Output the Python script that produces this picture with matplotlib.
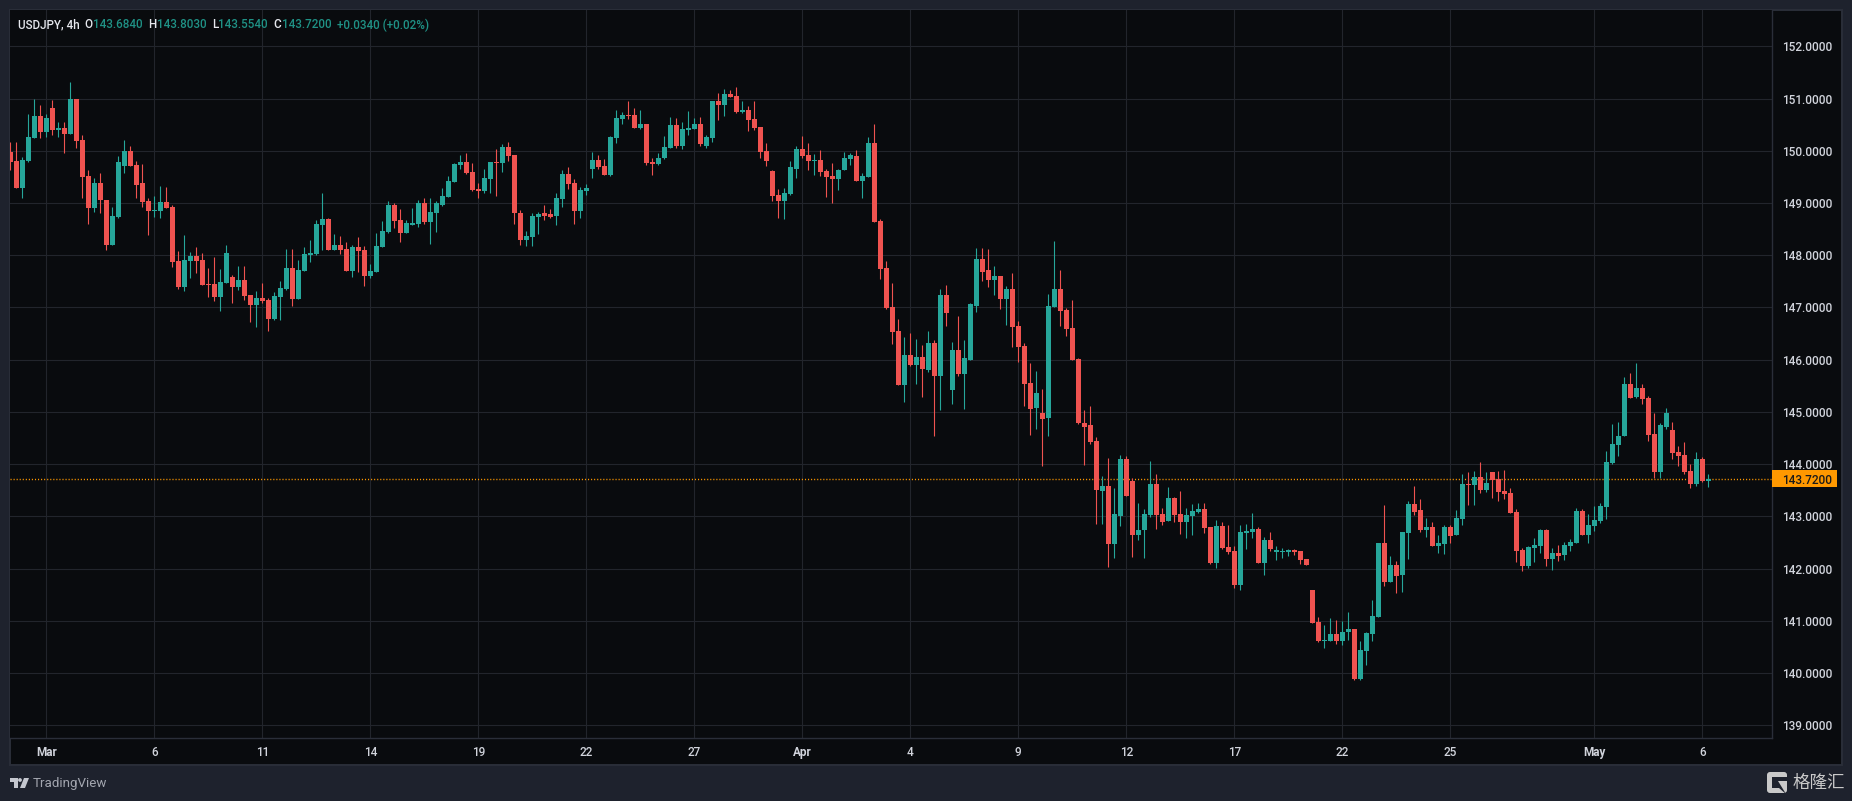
from matplotlib import pyplot as plt
from matplotlib.patches import Rectangle, Polygon, Circle, FancyBboxPatch
from matplotlib.ticker import FixedLocator, FixedFormatter

# USDJPY 4h candles
open_ = [149.97,149.81,149.28,149.81,150.24,150.66,150.35,150.81,150.39,150.43,
150.33,150.99,150.20,149.51,148.91,149.39,149.06,148.20,148.74,149.70,
149.99,149.72,149.39,149.03,148.85,148.85,149.01,148.93,147.89,147.39,
147.89,147.99,147.91,147.45,147.45,147.20,147.47,147.58,147.39,147.53,
147.24,147.05,147.18,147.14,146.78,147.20,147.35,147.76,147.16,147.70,
148.01,148.03,148.58,148.70,148.10,148.20,148.12,147.70,148.16,148.10,
147.60,147.68,148.16,148.45,148.97,148.68,148.43,148.58,148.60,148.99,
148.64,148.81,148.97,149.12,149.41,149.72,149.79,149.60,149.26,149.22,
149.45,149.78,149.76,150.08,149.91,148.81,148.29,148.35,148.74,148.80,
148.78,148.76,149.08,149.56,149.39,148.85,149.22,149.66,149.83,149.70,
149.54,150.24,150.60,150.68,150.68,150.43,150.51,149.78,149.74,149.87,
150.06,150.49,150.10,150.39,150.41,150.51,150.10,150.24,150.95,150.87,
151.08,151.04,150.74,150.78,150.60,150.45,149.99,149.62,149.16,149.03,
149.18,149.66,150.03,149.91,149.81,149.83,149.62,149.51,149.45,149.64,
149.85,149.89,149.43,149.49,150.14,148.66,147.76,147.01,146.55,145.51,
146.08,145.89,146.06,145.81,146.31,145.68,147.24,145.41,146.18,145.72,
145.99,147.03,147.93,147.72,147.53,147.60,147.16,147.35,146.64,146.26,
145.56,145.08,144.97,144.89,147.01,147.35,146.95,146.60,146.01,144.79,
144.74,144.45,143.49,143.58,142.47,143.01,144.10,143.68,142.64,142.74,
143.03,143.62,143.04,142.91,143.35,143.04,142.89,143.01,143.08,143.14,
142.79,142.10,142.81,142.41,142.33,141.68,142.68,142.70,142.76,142.10,
142.55,142.31,142.31,142.31,142.35,142.33,142.18,141.58,140.97,140.62,
140.62,140.74,140.62,140.78,140.85,139.89,140.43,140.74,141.08,142.49,
141.74,142.06,141.87,142.68,143.24,143.12,142.74,142.79,142.43,142.47,
142.79,142.64,142.95,143.62,143.60,143.76,143.51,143.85,143.72,143.49,
143.45,143.08,142.35,142.04,142.39,142.43,142.74,142.18,142.29,142.26,
142.43,142.49,143.10,142.64,142.81,142.91,143.18,144.03,144.37,144.54,
145.54,145.28,145.45,145.26,144.58,143.85,144.72,144.66,144.24,144.18,
143.87,143.62,144.10,143.684]
high = [150.16,150.16,149.88,150.70,151.00,150.87,150.70,150.97,150.55,150.55,
151.31,150.99,150.31,149.64,149.47,149.58,149.06,148.93,149.89,150.20,
150.10,149.81,149.74,149.10,149.14,149.33,149.31,148.97,148.08,148.39,
148.06,148.16,148.04,147.76,147.97,147.74,148.20,147.62,147.80,147.80,
147.24,147.31,147.47,147.18,147.30,147.51,148.12,148.12,147.91,148.16,
148.29,148.68,149.20,148.72,148.41,148.37,148.26,148.20,148.35,148.18,
147.83,148.43,148.66,149.03,148.99,148.89,148.68,148.91,149.06,149.10,
149.10,149.03,149.29,149.51,149.76,149.91,149.95,149.76,149.39,149.66,
149.78,150.03,150.12,150.16,149.91,148.87,148.47,148.80,148.83,148.97,
148.89,149.20,149.64,149.68,149.45,149.31,149.37,149.97,149.91,149.85,
150.28,150.78,150.74,150.95,150.81,150.78,150.51,149.87,149.95,150.29,
150.64,150.62,150.56,150.76,150.62,150.64,150.31,150.95,151.10,151.18,
151.16,151.22,150.95,150.85,150.95,150.45,150.14,149.64,149.26,149.29,
149.81,150.10,150.28,150.14,149.93,150.01,149.66,149.76,149.66,149.97,
149.95,150.01,149.58,150.26,150.51,148.70,147.89,147.47,146.78,146.43,
146.51,146.39,146.28,146.54,146.37,147.35,147.43,146.33,146.83,146.37,
147.08,148.14,148.14,148.12,147.79,147.60,147.41,147.66,146.74,146.31,
145.93,145.78,145.43,147.26,148.28,147.72,146.99,147.14,146.03,145.04,
145.12,144.51,143.78,144.12,143.54,144.18,144.16,143.74,143.26,143.14,
144.06,143.81,143.16,143.56,143.37,143.49,143.16,143.24,143.26,143.26,
142.79,142.93,142.89,142.83,142.43,142.83,142.85,143.06,142.79,142.60,
142.70,142.43,142.39,142.37,142.37,142.33,142.18,141.58,141.08,140.91,
141.06,141.01,140.99,141.16,140.85,140.62,140.79,141.39,142.49,143.22,
142.24,142.14,142.70,143.29,143.58,143.33,142.97,142.89,142.64,142.83,
142.83,143.12,143.81,143.85,143.87,144.04,143.85,143.85,143.87,143.89,
143.54,143.14,142.39,142.43,142.58,142.76,142.76,142.39,142.45,142.51,
142.56,143.16,143.14,143.04,143.20,143.26,144.26,144.76,144.81,145.66,
145.74,145.93,145.53,145.31,144.97,144.79,145.08,144.81,144.35,144.43,
144.01,144.24,144.14,143.803]
low = [149.64,149.28,149.10,149.79,150.24,150.24,150.26,150.31,150.26,149.95,
150.33,150.06,149.10,148.60,148.83,148.80,148.10,148.20,148.72,149.58,
149.70,149.10,148.93,148.39,148.74,148.72,148.91,147.78,147.35,147.31,
147.56,147.66,147.43,147.20,147.12,146.93,147.47,147.08,147.33,147.14,
146.72,146.62,147.08,146.55,146.76,146.76,147.33,147.03,147.16,147.70,
147.87,148.01,148.10,148.10,148.10,148.03,147.70,147.58,147.68,147.41,
147.56,147.68,148.16,148.43,148.53,148.26,148.43,148.58,148.54,148.60,
148.22,148.45,148.95,149.12,149.41,149.66,149.56,149.22,149.10,149.20,
149.20,149.14,149.60,149.81,148.60,148.20,148.18,148.18,148.41,148.68,
148.72,148.58,148.93,149.26,148.60,148.72,149.16,149.47,149.66,149.53,
149.51,150.14,150.51,150.60,150.43,150.41,149.72,149.54,149.72,149.85,
150.06,150.06,150.03,150.31,150.41,150.10,150.06,150.16,150.58,150.66,
151.03,150.72,150.72,150.37,150.39,149.87,149.70,149.03,148.72,148.70,
149.16,149.47,149.87,149.64,149.54,149.51,149.12,148.99,149.24,149.64,
149.72,149.43,149.10,149.49,148.64,147.55,146.97,146.30,145.51,145.18,
145.87,145.53,145.29,145.76,144.53,145.03,146.64,145.16,145.68,145.06,
145.99,146.91,147.51,147.39,147.24,146.97,146.66,146.24,145.95,145.12,
144.56,144.68,143.97,144.53,147.01,146.64,146.45,145.99,144.76,143.99,
144.39,142.85,142.85,142.03,142.20,142.81,143.39,142.22,142.54,142.20,
142.99,142.76,142.83,142.91,142.89,142.66,142.58,142.64,143.06,142.68,
142.08,142.01,142.37,142.28,141.62,141.58,142.37,142.58,142.10,141.87,
142.33,142.16,142.20,142.24,142.26,142.08,142.06,140.95,140.60,140.47,
140.62,140.56,140.54,140.64,139.87,139.87,140.16,140.62,141.08,141.66,
141.74,141.53,141.56,142.18,143.03,142.70,142.60,142.43,142.29,142.28,
142.49,142.64,142.83,143.22,143.22,143.45,143.47,143.35,143.29,143.33,
143.06,142.12,141.95,142.01,142.12,142.29,142.04,141.97,142.14,142.16,
142.33,142.49,142.64,142.49,142.72,142.87,142.95,144.01,144.16,144.54,
145.26,145.26,145.16,144.45,143.74,143.74,144.68,144.10,143.97,143.81,
143.54,143.58,143.66,143.554]
close = [149.79,149.28,149.83,150.26,150.66,150.35,150.62,150.39,150.43,150.33,
150.99,150.18,149.49,148.91,149.39,149.05,148.20,148.76,149.79,149.99,
149.70,149.35,149.01,148.85,148.87,149.01,148.91,147.87,147.39,147.91,
147.99,147.89,147.43,147.43,147.20,147.49,148.04,147.39,147.53,147.22,
147.05,147.18,147.12,146.78,147.22,147.37,147.76,147.16,147.72,148.03,
148.04,148.60,148.70,148.10,148.20,148.10,147.70,148.16,148.08,147.60,
147.70,148.18,148.47,148.97,148.66,148.43,148.62,148.62,148.99,148.63,
148.83,148.99,149.14,149.43,149.74,149.79,149.58,149.24,149.22,149.47,
149.78,149.76,150.08,149.89,148.80,148.29,148.37,148.76,148.78,148.76,
148.74,149.10,149.56,149.37,148.85,149.24,149.29,149.83,149.68,149.54,
150.26,150.62,150.68,150.66,150.43,150.51,149.76,149.74,149.87,150.08,
150.49,150.10,150.41,150.43,150.51,150.12,150.26,150.95,150.87,151.08,
151.03,150.74,150.78,150.58,150.43,149.97,149.81,149.14,149.03,149.20,
149.68,150.03,149.89,149.81,149.83,149.60,149.49,149.45,149.64,149.87,
149.91,149.43,149.51,150.14,148.64,147.74,146.99,146.53,145.51,146.08,
145.89,146.06,145.83,146.31,145.68,147.24,146.89,146.18,145.72,146.03,
147.06,147.93,147.68,147.53,147.60,147.16,147.35,146.62,146.24,145.54,
145.06,145.37,144.87,147.03,147.35,146.93,146.58,145.99,144.78,144.72,
144.43,143.51,143.58,142.47,143.04,144.10,143.39,142.64,142.74,143.04,
143.62,143.03,142.89,143.35,143.03,142.89,143.03,143.10,143.14,142.78,
142.10,142.81,142.39,142.31,141.68,142.70,142.72,142.76,142.10,142.55,
142.37,142.35,142.33,142.35,142.31,142.16,142.06,140.95,140.62,140.64,
140.74,140.62,140.79,140.85,139.89,140.45,140.76,141.10,142.49,141.74,
142.06,141.85,142.70,143.24,143.08,142.74,142.79,142.43,142.49,142.79,
142.62,142.97,143.62,143.60,143.76,143.51,143.64,143.70,143.47,143.43,
143.06,142.33,142.04,142.41,142.45,142.74,142.18,142.29,142.24,142.45,
142.51,143.10,142.64,142.83,142.93,143.20,144.04,144.39,144.53,145.54,
145.26,145.45,145.24,144.56,143.85,144.74,144.97,144.22,144.16,143.85,
143.62,144.10,143.68,143.72]

price_ticks = list(range(139, 153))
date_pos = [6, 24, 42, 60, 78, 96, 114, 132, 150, 168, 186, 204, 222, 240, 264, 282]
date_labels = ['Mar', '6', '11', '14', '19', '22', '27', 'Apr', '4', '9', '12', '17', '22', '25', 'May', '6']
header_vals = ['143.6840', '143.8030', '143.5540', '143.7200']

W, H = 1852, 801
BG = '#1e222d'
CHART = '#090b0e'
GRID = '#22252c'
BORDER = '#2a2e39'
UP = '#26a69a'
DOWN = '#ef5350'
TXT = '#d1d4dc'
FONT = 'Roboto'
plt.rcParams['font.family'] = [FONT, 'DejaVu Sans']

fig = plt.figure(figsize=(W / 100, H / 100), dpi=100, facecolor=BG)

# full figure layer in pixel coords, for panel and logos
back = fig.add_axes([0, 0, 1, 1], zorder=0)
back.set_xlim(0, W)
back.set_ylim(H, 0)
back.axis('off')
back.add_patch(Rectangle((10, 10), 1832, 755, fc=CHART, ec=BORDER, lw=1.4))

# tradingview logo
logo = '#c4c7cf'
back.add_patch(Polygon([(10, 778), (18, 778), (18, 788), (14, 788), (14, 782), (10, 782)], fc=logo, lw=0))
back.add_patch(Circle((20, 780), 1.9, fc=logo, lw=0))
back.add_patch(Polygon([(24, 778), (29, 778), (25, 788), (20, 788)], fc=logo, lw=0))
back.text(33, 783, 'TradingView', color='#a3a6af', fontsize=9.6, va='center', ha='left')

# glh watermark
mark = '#c9c9c9'
back.add_patch(FancyBboxPatch((1767, 772), 20, 21, boxstyle='round,pad=0,rounding_size=3', fc=mark, lw=0))
back.add_patch(Polygon([(1772, 777), (1788, 777), (1788, 781), (1778, 781), (1786, 794), (1779, 788), (1772, 788)], fc=BG, lw=0))
back.text(1792.5, 782.5, '格隆汇', color=mark, fontsize=12.6, va='center', ha='left',
          family=['Noto Sans CJK SC', 'DejaVu Sans'], fontweight='medium')

ax = fig.add_axes([10 / W, 1 - 738.3 / H, (1772.3 - 10) / W, (738.3 - 10) / H], zorder=1)
ax.set_facecolor(CHART)
ax.set_xlim((10 - 10.3) / 6, (1772.3 - 10.3) / 6)
ax.set_ylim(138.75, 152.695)

for s in ['top', 'left']:
    ax.spines[s].set_visible(False)
for s in ['right', 'bottom']:
    ax.spines[s].set_color(BORDER)
    ax.spines[s].set_linewidth(1.0)

ax.yaxis.tick_right()
ax.yaxis.set_major_locator(FixedLocator(price_ticks))
ax.yaxis.set_major_formatter(FixedFormatter(['%.4f' % p for p in price_ticks]))
ax.xaxis.set_major_locator(FixedLocator(date_pos))
ax.xaxis.set_major_formatter(FixedFormatter(date_labels))
ax.tick_params(axis='y', length=0, pad=7, labelsize=8.5, labelcolor=TXT)
ax.tick_params(axis='x', length=0, pad=5.5, labelsize=8.5, labelcolor=TXT)
for t in ax.get_xticklabels() + ax.get_yticklabels():
    t.set_fontweight('medium')
for t in ax.get_xticklabels():
    if t.get_text() in ('Mar', 'Apr', 'May'):
        t.set_fontweight('bold')
ax.grid(True, color=GRID, lw=0.8)
ax.set_axisbelow(True)

xs = list(range(len(close)))
colors = [UP if c >= o else DOWN for o, c in zip(open_, close)]
ax.vlines(xs, low, high, colors=colors, lw=0.8, zorder=3)
bottoms = [min(o, c) for o, c in zip(open_, close)]
heights = [abs(c - o) for o, c in zip(open_, close)]
ax.bar(xs, heights, bottom=bottoms, width=5 / 6, color=colors, linewidth=0, zorder=4)

# last price line and tag
ax.axhline(close[-1], color='#ff9800', lw=1.0, ls=(0, (0.8, 1.4)), zorder=2)
tag_y = ax.get_yaxis_transform()
ax.add_patch(Rectangle((1.0, close[-1] - 0.16), 65 / 1762.3, 0.32, fc='#ff9800', lw=0,
                       transform=tag_y, clip_on=False, zorder=5))
ax.text(1 + 10 / 1762.3, close[-1], '%.4f' % close[-1], transform=tag_y, color='#1a1a1a',
        fontsize=8.5, va='center_baseline', ha='left', fontweight='medium', zorder=6, clip_on=False)

# header legend
def head(x, s, col, weight='medium'):
    fig.text(x / W, 1 - 25 / H, s, color=col, fontsize=8.4, va='center', ha='left', fontweight=weight, zorder=5)

head_green = '#1f9185'
head(17.7, 'USDJPY, 4h', '#e6e8ee')
for lx, vx, name, val in zip([84, 147.7, 211.7, 273.3], [93.3, 156.7, 218.3, 281.7], 'OHLC', header_vals):
    head(lx, name, '#e6e8ee')
    head(vx, val, head_green)
head(336.7, '+0.0340 (+0.02%)', head_green)

fig.savefig('out.png', dpi=100, facecolor=BG)
